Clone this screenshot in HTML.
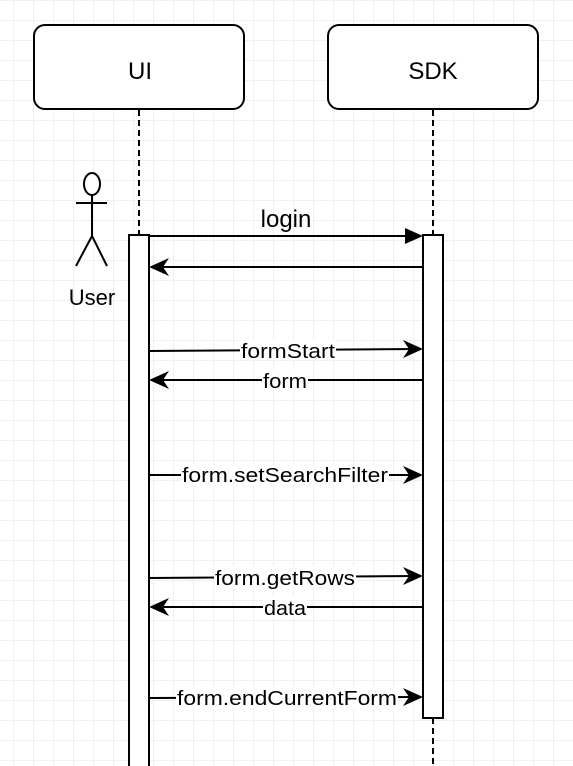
<!DOCTYPE html>
<html><head><style>
body{margin:0;width:573px;height:766px;overflow:hidden;background:#fff;
background-image:linear-gradient(#f0f0f0 1px,transparent 1px),linear-gradient(90deg,#f0f0f0 1px,transparent 1px);
background-size:20px 20px;background-position:13px 0px,13px 0px;}
text{font-family:"Liberation Sans",sans-serif;}
</style></head><body>
<svg width="573" height="766" xmlns="http://www.w3.org/2000/svg" style="position:absolute;left:0;top:0">
<rect x="34" y="25" width="210" height="84" rx="11" fill="#fff" stroke="#000" stroke-width="2"/>
<rect x="328" y="25" width="210" height="84" rx="11" fill="#fff" stroke="#000" stroke-width="2"/>
<text x="140" y="79" font-size="24" text-anchor="middle">UI</text>
<text x="433" y="79" font-size="24" text-anchor="middle">SDK</text>
<line x1="139" y1="110" x2="139" y2="235" stroke="#000" stroke-width="2" stroke-dasharray="6,4"/>
<line x1="433" y1="110" x2="433" y2="235" stroke="#000" stroke-width="2" stroke-dasharray="6,4"/>
<line x1="433" y1="718" x2="433" y2="766" stroke="#000" stroke-width="2" stroke-dasharray="6,4"/>
<rect x="129" y="235" width="20" height="540" fill="#fff" stroke="#000" stroke-width="2"/>
<rect x="423" y="235" width="20" height="483" fill="#fff" stroke="#000" stroke-width="2"/>
<g stroke="#000" stroke-width="2" fill="none">
<ellipse cx="92" cy="184" rx="8" ry="11" fill="#fff"/>
<line x1="76" y1="203" x2="107" y2="203"/>
<line x1="92" y1="195" x2="92" y2="236"/>
<line x1="92" y1="236" x2="76" y2="266"/>
<line x1="92" y1="236" x2="107" y2="266"/>
</g>
<text x="92" y="305" font-size="22" text-anchor="middle">User</text>
<g stroke="#000" stroke-width="2">
<line x1="149" y1="236" x2="410" y2="236"/>
<line x1="423" y1="267" x2="155" y2="267"/>
<line x1="149" y1="351" x2="418" y2="349"/>
<line x1="423" y1="380" x2="155" y2="380"/>
<line x1="149" y1="475" x2="418" y2="475"/>
<line x1="149" y1="578" x2="418" y2="576"/>
<line x1="423" y1="607" x2="155" y2="607"/>
<line x1="149" y1="698" x2="418" y2="697"/>
</g>
<g fill="#000">
<path d="M423,236 L405,228 L405,244 Z"/>
<path d="M149,267 L169,258 L163,267 L169,276 Z"/>
<path d="M423,349 L403,340 L409,349 L403,358 Z"/>
<path d="M149,380 L169,371 L163,380 L169,389 Z"/>
<path d="M423,475 L403,466 L409,475 L403,484 Z"/>
<path d="M423,576 L403,567 L409,576 L403,585 Z"/>
<path d="M149,607 L169,598 L163,607 L169,616 Z"/>
<path d="M423,697 L403,688 L409,697 L403,706 Z"/>
</g>
<text x="286" y="227" font-size="24" text-anchor="middle">login</text>
<g fill="#fff">
<rect x="240" y="340" width="96" height="20"/>
<rect x="262" y="370" width="46" height="20"/>
<rect x="181" y="465" width="208" height="20"/>
<rect x="214" y="567" width="142" height="20"/>
<rect x="263" y="597" width="44" height="20"/>
<rect x="176" y="688" width="222" height="20"/>
</g>
<g font-size="20">
<text x="241" y="358" textLength="94" lengthAdjust="spacingAndGlyphs">formStart</text>
<text x="263" y="388" textLength="44" lengthAdjust="spacingAndGlyphs">form</text>
<text x="182" y="482" textLength="206" lengthAdjust="spacingAndGlyphs">form.setSearchFilter</text>
<text x="215" y="585" textLength="140" lengthAdjust="spacingAndGlyphs">form.getRows</text>
<text x="264" y="615" textLength="42" lengthAdjust="spacingAndGlyphs">data</text>
<text x="177" y="705" textLength="220" lengthAdjust="spacingAndGlyphs">form.endCurrentForm</text>
</g>
</svg>
</body></html>
